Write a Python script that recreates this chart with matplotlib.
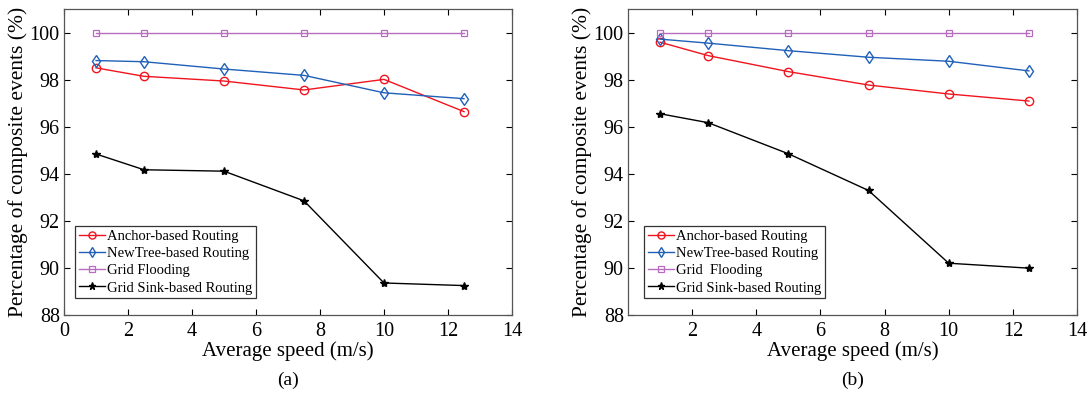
import matplotlib
matplotlib.use('Agg')
from matplotlib import pyplot as plt

plt.rcParams['font.family'] = ['Liberation Serif', 'DejaVu Serif']

speed = [1, 2.5, 5, 7.5, 10, 12.5]

# (a)
anchor_a = [98.50, 98.14, 97.94, 97.56, 98.01, 96.64]
newtree_a = [98.81, 98.76, 98.45, 98.18, 97.44, 97.19]
flooding_a = [100, 100, 100, 100, 100, 100]
sink_a = [94.84, 94.17, 94.11, 92.85, 89.36, 89.25]

# (b)
anchor_b = [99.59, 99.02, 98.34, 97.77, 97.39, 97.09]
newtree_b = [99.72, 99.55, 99.23, 98.95, 98.78, 98.37]
flooding_b = [100, 100, 100, 100, 100, 100]
sink_b = [96.55, 96.17, 94.85, 93.29, 90.20, 89.99]

labels_a = ['Anchor-based Routing', 'NewTree-based Routing', 'Grid Flooding', 'Grid Sink-based Routing']
labels_b = ['Anchor-based Routing', 'NewTree-based Routing', 'Grid  Flooding', 'Grid Sink-based Routing']

xticks_a = [0, 2, 4, 6, 8, 10, 12, 14]
xticks_b = [2, 4, 6, 8, 10, 12, 14]
yticks = [88, 90, 92, 94, 96, 98, 100]


def draw_panel(ax, anchor, newtree, flooding, sink, labels, xticks, tag, leg_x):
    ax.plot(speed, anchor, '-o', color='#f0141e', lw=1.0, ms=6, mfc='none', mew=1.0, label=labels[0])
    ax.plot(speed, newtree, '-d', color='#2060b8', lw=1.0, ms=6, mfc='none', mew=1.0, label=labels[1])
    ax.plot(speed, flooding, '-s', color='#b86cc0', lw=1.0, ms=5, mfc='none', mew=0.9, label=labels[2])
    ax.plot(speed, sink, '-*', color='black', lw=1.0, ms=6, label=labels[3])

    ax.set_xlim(0, 14)
    ax.set_ylim(88, 101)
    ax.set_xticks(xticks)
    ax.set_yticks(yticks)
    ax.tick_params(direction='in', top=True, right=True, labelsize=14.5, length=4)
    ax.tick_params(axis='x', pad=5)
    ax.tick_params(axis='y', pad=3)
    for s in ax.spines.values():
        s.set_color('#555555')
        s.set_linewidth(0.9)

    ax.set_xlabel('Average speed (m/s)', fontsize=15, labelpad=0)
    ax.set_ylabel('Percentage of composite events (%)', fontsize=15.5, labelpad=1)

    leg = ax.legend(loc='lower left', bbox_to_anchor=(leg_x, 0.055), fontsize=10.5,
                    frameon=True, fancybox=False, handlelength=1.8, handletextpad=0.15,
                    borderpad=0.25, labelspacing=0.28, borderaxespad=0, markerscale=0.85)
    leg.get_frame().set_edgecolor('black')
    leg.get_frame().set_linewidth(0.9)

    ax.text(0.5, -0.215, tag, transform=ax.transAxes, ha='center', va='center', fontsize=14)


fig = plt.figure(figsize=(10.87, 3.94), dpi=100)
ax1 = fig.add_axes([64 / 1087, (394 - 315) / 394, (512 - 64) / 1087, (315 - 9) / 394])
ax2 = fig.add_axes([628 / 1087, (394 - 315) / 394, (1077 - 628) / 1087, (315 - 9) / 394])

draw_panel(ax1, anchor_a, newtree_a, flooding_a, sink_a, labels_a, xticks_a, '(a)', 0.025)
draw_panel(ax2, anchor_b, newtree_b, flooding_b, sink_b, labels_b, xticks_b, '(b)', 0.036)

fig.savefig('out.png', dpi=100)
